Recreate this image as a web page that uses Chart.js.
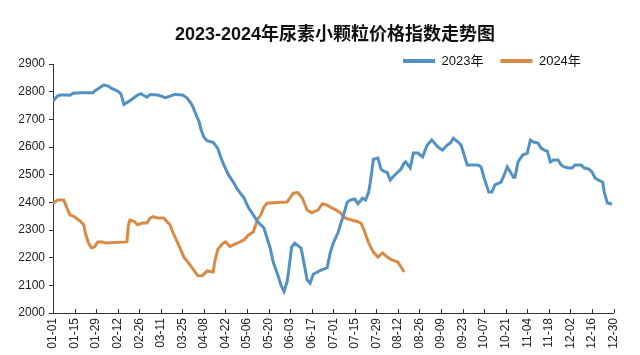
<!DOCTYPE html>
<html>
<head>
<meta charset="utf-8">
<title>2023-2024年尿素小颗粒价格指数走势图</title>
<script src="https://cdn.jsdelivr.net/npm/chart.js@4.4.1/dist/chart.umd.min.js"></script>
<style>
  html, body { margin: 0; padding: 0; background: #fff; }
  #wrap { width: 640px; height: 355px; position: relative; }
</style>
</head>
<body>
<div id="wrap"><canvas id="cv"></canvas></div>
<script>
// x = day index from 01-01, ticks every 14 days
const tickLabels = ['01-01','01-15','01-29','02-12','02-26','03-11','03-25','04-08','04-22','05-06','05-20','06-03','06-17',
  '07-01','07-15','07-29','08-12','08-26','09-09','09-23','10-07','10-21','11-04','11-18','12-02','12-16','12-30'];

const days2023 = [0,3,5,8,11,13,18,26,27,31,33,36,38,42,44,45,46,49,51,55,
  57,61,63,68,73,76,79,84,87,90,91,93,95,96,98,100,104,107,109,111,
  114,117,120,124,127,130,133,137,139,141,143,146,148,150,152,153,155,157,161,162,
  164,165,167,169,174,178,180,182,185,187,189,191,193,196,198,201,203,205,206,207,
  208,211,213,215,217,219,222,226,228,229,232,234,237,240,243,246,250,253,256,258,
  260,263,265,267,269,276,278,280,283,285,287,291,293,295,297,299,300,302,305,308,
  310,312,315,317,319,321,323,325,328,330,332,335,337,339,343,345,348,350,352,354,
  357,358,360,363];
const values2023 = [2766,2785,2788,2788,2787,2794,2796,2796,2802,2817,2824,2820,2812,2802,2793,2776,2754,2764,2772,2788,
  2793,2780,2790,2788,2778,2784,2790,2788,2778,2754,2743,2715,2690,2665,2635,2623,2617,2595,2562,2534,
  2499,2474,2445,2416,2380,2355,2330,2307,2271,2235,2184,2137,2101,2078,2112,2150,2239,2253,2235,2210,
  2150,2120,2108,2140,2155,2163,2217,2253,2289,2325,2360,2400,2408,2412,2395,2415,2408,2437,2470,2510,
  2555,2560,2520,2512,2508,2481,2499,2520,2542,2546,2524,2578,2578,2564,2607,2625,2600,2589,2607,2614,
  2632,2618,2607,2571,2535,2535,2528,2488,2437,2437,2463,2473,2499,2528,2510,2491,2491,2546,2571,2578,
  2625,2618,2614,2596,2589,2585,2546,2553,2553,2535,2528,2524,2524,2535,2535,2524,2520,2510,2488,2481,
  2473,2437,2398,2394];

const days2024 = [0,3,7,9,11,14,18,20,21,23,25,27,29,32,34,48,49,50,53,55,
  58,61,63,65,68,72,74,76,78,81,83,85,88,90,94,97,100,104,105,107,
  110,112,115,117,120,124,127,130,133,135,137,139,148,152,156,159,162,165,168,172,
  175,178,181,184,187,190,194,198,200,202,205,208,211,214,217,220,224,226,228];
const values2024 = [2397,2408,2408,2380,2355,2348,2330,2319,2289,2253,2235,2239,2257,2257,2253,2257,2319,2336,2330,2319,
  2325,2325,2343,2348,2343,2343,2330,2319,2289,2253,2228,2202,2181,2166,2135,2135,2152,2148,2184,2230,
  2250,2257,2240,2246,2253,2264,2282,2293,2340,2355,2383,2397,2400,2401,2433,2435,2415,2372,2362,2372,
  2395,2390,2380,2372,2360,2343,2336,2330,2325,2300,2253,2220,2202,2217,2202,2192,2184,2166,2148];

const BLUE = '#5291c2';
const ORANGE = '#d98b45';
const AXIS = '#333333';

const pts = (xs, ys) => xs.map((d, i) => ({ x: d, y: ys[i] }));

// x axis tick marks point up into the plot
const innerTicks = {
  id: 'innerTicks',
  afterDraw(chart) {
    const sx = chart.scales.x, ctx = chart.ctx, y0 = chart.chartArea.bottom;
    ctx.save();
    ctx.strokeStyle = AXIS; ctx.lineWidth = 1;
    sx.ticks.forEach((t) => {
      const px = Math.round(sx.getPixelForValue(t.value)) + 0.5;
      ctx.beginPath(); ctx.moveTo(px, y0); ctx.lineTo(px, y0 - 4); ctx.stroke();
    });
    ctx.restore();
  }
};

// put title / legend where the original has them
const placeBoxes = {
  id: 'placeBoxes',
  afterLayout(chart) {
    const t = chart.titleBlock;
    if (t) { t.top = 24; t.bottom = t.top + t.height; t.left = 30; t.right = 640; }
    const lg = chart.legend;
    if (lg) { lg.top = 37.5; lg.bottom = lg.top + lg.height; lg.left = 386; lg.right = 640; }
  }
};

Chart.defaults.font.family = '"Liberation Sans", Arial, "Noto Sans CJK SC", sans-serif';
Chart.defaults.color = '#222';

new Chart(document.getElementById('cv').getContext('2d'), {
  type: 'line',
  data: {
    datasets: [
      { label: '2023年', data: pts(days2023, values2023), borderColor: BLUE, backgroundColor: BLUE, borderWidth: 3, pointRadius: 0, tension: 0 },
      { label: '2024年', data: pts(days2024, values2024), borderColor: ORANGE, backgroundColor: ORANGE, borderWidth: 3, pointRadius: 0, tension: 0 },
    ],
  },
  options: {
    responsive: true,
    maintainAspectRatio: false,
    animation: false,
    layout: { padding: { top: 2.4, right: 26.5, bottom: 0, left: 0 } },
    plugins: {
      title: {
        display: true,
        text: '2023-2024年尿素小颗粒价格指数走势图',
        color: '#111',
        font: { size: 18, weight: 'bold', family: '"Liberation Sans", "Noto Sans CJK SC", sans-serif' },
        padding: { top: 0, bottom: 0 },
      },
      legend: {
        display: true,
        position: 'top',
        align: 'start',
        labels: {
          color: '#111',
          font: { size: 13 },
          boxWidth: 32,
          boxHeight: 4,
          padding: 17,
          generateLabels(chart) {
            return Chart.defaults.plugins.legend.labels.generateLabels(chart).map((it) => ({ ...it, lineWidth: 0 }));
          },
        },
      },
      tooltip: { enabled: false },
    },
    scales: {
      x: {
        type: 'linear',
        min: 0,
        max: 364,
        afterFit(scale) { scale.height = 42; },
        border: { color: AXIS, width: 1 },
        grid: { display: true, drawOnChartArea: false, drawTicks: false },
        ticks: {
          stepSize: 14,
          autoSkip: false,
          maxRotation: 90,
          minRotation: 90,
          padding: 5,
          font: { size: 12 },
          color: '#222',
          callback: (v) => tickLabels[Math.round(v / 14)] || '',
        },
      },
      y: {
        min: 2000,
        max: 2900,
        afterFit(scale) { scale.width = 53; },
        border: { color: AXIS, width: 1 },
        grid: { display: true, drawOnChartArea: false, drawTicks: true, tickLength: 4, color: AXIS },
        ticks: { stepSize: 100, padding: 4, font: { size: 12 }, color: '#222', callback: (v) => String(v) },
      },
    },
  },
  plugins: [innerTicks, placeBoxes],
});
</script>
</body>
</html>
